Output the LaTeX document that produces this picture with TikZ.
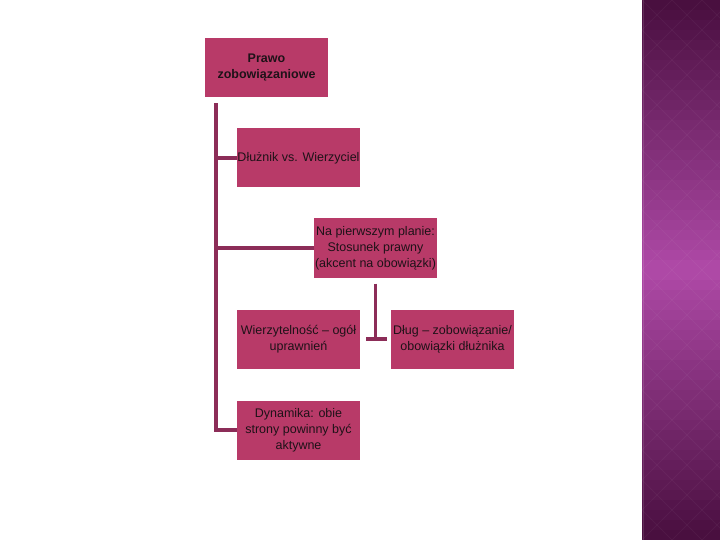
\documentclass[tikz,border=0pt]{standalone}
\usepackage{fontspec}
\setmainfont{Liberation Sans}
\definecolor{boxfill}{RGB}{184,58,104}
\definecolor{linkcol}{RGB}{140,45,88}
\definecolor{txtcol}{RGB}{30,18,24}
\definecolor{stripdark}{RGB}{72,14,62}
\definecolor{striplight}{RGB}{176,74,168}
\tikzset{
    box/.style={fill=boxfill, minimum width=123pt, minimum height=59pt, inner sep=0pt,
        align=center, text=txtcol, font=\fontsize{12.5}{16}\selectfont},
    link/.style={draw=linkcol, line width=3.5pt},
}
\begin{document}
\begin{tikzpicture}[x=1pt, y=-1pt]

    % Tlo slajdu
    \useasboundingbox (0,0) rectangle (720,540);
    \fill[white] (0,0) rectangle (720,540);

    % Pasek z prawej strony (gradient z paskow)
    \foreach \i in {0,...,53} {
        \pgfmathtruncatemacro{\p}{100*(1-abs(\i*10+5-270)/270)}
        \fill[striplight!\p!stripdark] (642,\i*10) rectangle (720,\i*10+10.5);
    }
    \begin{scope}
        \clip (642,0) rectangle (720,540);
        \foreach \k in {-600,-570,...,780}
            \draw[white, opacity=0.04, line width=0.8pt] (642,\k) -- ++(600,600) (642,\k) -- ++(600,-600);
    \end{scope}
    \draw[white, opacity=0.12, line width=1pt] (643.5,0) -- (643.5,540);

    % Wezly
    \node[box, font=\bfseries\fontsize{12.5}{16}\selectfont] (prawo) at (266.5,67.5) {Prawo\\zobowiązaniowe};
    \node[box] (dluznik) at (298.5,158) {Dłużnik vs. Wierzyciel};
    \node[box] (stosunek) at (375.5,248) {Na pierwszym planie:\\Stosunek prawny\\(akcent na obowiązki)};
    \node[box] (wierz) at (298.5,339) {Wierzytelność -- ogół\\uprawnień};
    \node[box] (dlug) at (452.5,339) {Dług -- zobowiązanie/\\obowiązki dłużnika};
    \node[box] (dynamika) at (298.5,430) {Dynamika: obie\\strony powinny być\\aktywne};

    % Polaczenia
    \draw[link] ([xshift=11pt, yshift=-6pt]prawo.south west) coordinate (trunk) |- (dynamika.west);
    \draw[link] (trunk |- dluznik.west) -- (dluznik.west);
    \draw[link] (trunk |- stosunek.west) -- (stosunek.west);

    \coordinate (tee) at (stosunek.south |- wierz.east);
    \draw[link] ([yshift=-6pt]stosunek.south) -- (tee);
    \draw[link] ([xshift=6pt]wierz.east) -- ([xshift=-4pt]dlug.west);

\end{tikzpicture}
\end{document}
